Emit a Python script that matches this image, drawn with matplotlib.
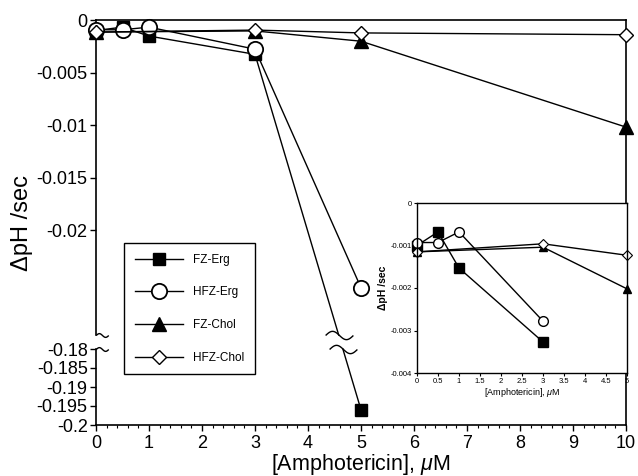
import numpy as np
import matplotlib
matplotlib.use("Agg")
import matplotlib.pyplot as plt
from matplotlib.path import Path
from matplotlib.ticker import MultipleLocator, NullLocator

plt.rcParams['font.family'] = ['Liberation Sans', 'DejaVu Sans']
plt.rcParams['mathtext.fontset'] = 'custom'
plt.rcParams['mathtext.rm'] = 'Liberation Sans'
plt.rcParams['mathtext.it'] = 'Liberation Sans:italic'
plt.rcParams['axes.unicode_minus'] = False

# data
x_erg = [0, 0.5, 1, 3, 5]
fz_erg = [-0.0010, -0.00068, -0.00153, -0.00327, -0.196]
hfz_erg = [-0.00093, -0.00093, -0.00068, -0.00278, -0.0255]
x_chol = [0, 3, 5, 10]
fz_chol = [-0.00115, -0.00104, -0.00202, -0.0102]
hfz_chol = [-0.00115, -0.00096, -0.00123, -0.0014]

main_yticks = [0, -0.005, -0.01, -0.015, -0.02, -0.18, -0.185, -0.19, -0.195, -0.2]
main_ylabels = ["0", "-0.005", "-0.01", "-0.015", "-0.02", "-0.18", "-0.185", "-0.19", "-0.195", "-0.2"]
inset_yticks = [0, -0.001, -0.002, -0.003, -0.004]
inset_ylabels = ["0", "-0.001", "-0.002", "-0.003", "-0.004"]
inset_xticks = [0, 0.5, 1, 1.5, 2, 2.5, 3, 3.5, 4, 4.5, 5]
inset_xlabels = ["0", "0.5", "1", "1.5", "2", "2.5", "3", "3.5", "4", "4.5", "5"]

# broken y axis: upper part 0..-0.03, small gap, lower part -0.18..-0.2
brk_in = [-1.0, -0.2, -0.18, -0.03, 0.0, 1.0]
brk_out = [-3445.0, -405.0, -329.0, -315.0, 0.0, 10500.0]

def fwd(y):
    return np.interp(y, brk_in, brk_out)

def inv(v):
    return np.interp(v, brk_out, brk_in)

# tilde path for break marks
tt = np.linspace(-1, 1, 25)
tilde = Path(np.column_stack([tt, -0.3 * np.sin(np.pi * tt)]))

styles = {
    "FZ-Erg": dict(marker="s", mfc="black", mec="black"),
    "HFZ-Erg": dict(marker="o", mfc="white", mec="black"),
    "FZ-Chol": dict(marker="^", mfc="black", mec="black"),
    "HFZ-Chol": dict(marker="D", mfc="white", mec="black"),
}
main_ms = {"FZ-Erg": 8.5, "HFZ-Erg": 11, "FZ-Chol": 10.5, "HFZ-Chol": 7.5}
inset_ms = {"FZ-Erg": 6.5, "HFZ-Erg": 7, "FZ-Chol": 6, "HFZ-Chol": 5}

fig = plt.figure(figsize=(6.38, 4.76), dpi=100)
ax = fig.add_axes([96/638, 1-425/476, 530/638, 405/476])
ax.set_yscale('function', functions=(fwd, inv))
ax.set_xlim(0, 10)
ax.set_ylim(-0.2, 0)

# FZ-Erg: broken segment between x=3 and x=5
s3, s5 = fwd(fz_erg[3]), fwd(fz_erg[4])
xa = x_erg[3] + (x_erg[4]-x_erg[3]) * (fwd(-0.03) - s3) / (s5 - s3)
xb = x_erg[3] + (x_erg[4]-x_erg[3]) * (fwd(-0.18) - s3) / (s5 - s3)
ax.plot(x_erg[:4] + [xa], fz_erg[:4] + [-0.03], color="black", lw=1, clip_on=False)
ax.plot([xb, x_erg[4]], [-0.18, fz_erg[4]], color="black", lw=1, clip_on=False)
ax.plot([xa, xb], [-0.03, -0.18], ls="none", marker=tilde, ms=20, mfc="none",
        mec="black", mew=1)
ax.plot(x_erg, fz_erg, ls="none", ms=main_ms["FZ-Erg"], clip_on=False, zorder=3,
        **styles["FZ-Erg"])
ax.plot([], [], color="black", lw=1, ms=main_ms["FZ-Erg"], label="FZ-Erg", **styles["FZ-Erg"])

ax.plot(x_erg, hfz_erg, color="black", lw=1, ms=main_ms["HFZ-Erg"], mew=1.3,
        clip_on=False, zorder=3, label="HFZ-Erg", **styles["HFZ-Erg"])
ax.plot(x_chol, fz_chol, color="black", lw=1, ms=main_ms["FZ-Chol"],
        clip_on=False, zorder=3, label="FZ-Chol", **styles["FZ-Chol"])
ax.plot(x_chol, hfz_chol, color="black", lw=1, ms=main_ms["HFZ-Chol"], mew=1,
        clip_on=False, zorder=3, label="HFZ-Chol", **styles["HFZ-Chol"])

# spines with break on the left
ax.spines['left'].set_visible(False)
for sp in ['top', 'right', 'bottom']:
    ax.spines[sp].set_linewidth(1.2)
ytr = ax.get_yaxis_transform()
ax.plot([0, 0], [0, -0.03], color="black", lw=1.2, transform=ytr, clip_on=False)
ax.plot([0, 0], [-0.18, -0.2], color="black", lw=1.2, transform=ytr, clip_on=False)
ax.plot([0.012, 0.012], [-0.03, -0.18], ls="none", marker=tilde, ms=9, mfc="none",
        mec="black", mew=1, transform=ytr, clip_on=False)

ax.set_yticks(main_yticks)
ax.set_yticklabels(main_ylabels)
ax.yaxis.set_minor_locator(NullLocator())
ax.xaxis.set_major_locator(MultipleLocator(1))
ax.xaxis.set_minor_locator(MultipleLocator(0.2))
ax.tick_params(axis='both', which='major', direction='out', length=4, width=1, labelsize=13)
ax.tick_params(axis='x', which='minor', direction='out', length=2, width=0.8)
ax.tick_params(axis='y', pad=2)
ax.set_xlabel("[Amphotericin], $\\mu$M", fontsize=15.5)
ax.xaxis.set_label_coords(0.5, -0.066)
ax.set_ylabel("\u0394pH /sec", fontsize=17)
ax.yaxis.set_label_coords(-0.119, 0.5)

leg = ax.legend(loc="upper left", bbox_to_anchor=(0.053, 0.449), fontsize=8.5,
                handlelength=4.1, handletextpad=0.85, labelspacing=1.75,
                borderpad=0.9, fancybox=False, edgecolor="black", framealpha=1,
                borderaxespad=0)
leg.get_frame().set_linewidth(1)

# inset
ins = fig.add_axes([417/638, 1-373/476, 210/638, 170/476])
ins.set_facecolor("white")
ins.set_xlim(0, 5)
ins.set_ylim(-0.004, 0)
ins.plot(x_erg[:4], fz_erg[:4], color="black", lw=1, ms=inset_ms["FZ-Erg"],
         clip_on=False, **styles["FZ-Erg"])
ins.plot(x_erg[:4], hfz_erg[:4], color="black", lw=1, ms=inset_ms["HFZ-Erg"],
         clip_on=False, **styles["HFZ-Erg"])
ins.plot(x_chol[:3], fz_chol[:3], color="black", lw=1, ms=inset_ms["FZ-Chol"],
         clip_on=False, **styles["FZ-Chol"])
ins.plot(x_chol[:3], hfz_chol[:3], color="black", lw=1, ms=inset_ms["HFZ-Chol"],
         mew=0.8, clip_on=False, **styles["HFZ-Chol"])
ins.set_xticks(inset_xticks)
ins.set_xticklabels(inset_xlabels)
ins.set_yticks(inset_yticks)
ins.set_yticklabels(inset_ylabels)
ins.tick_params(direction='out', length=2, width=0.8, labelsize=5.5, pad=1.5)
for sp in ins.spines.values():
    sp.set_linewidth(1)
ins.set_xlabel("[Amphotericin], $\\mu$M", fontsize=6.5, labelpad=1)
ins.set_ylabel("\u0394pH /sec", fontsize=7.5, fontweight="bold", labelpad=2)

fig.savefig("out.png", dpi=100)
